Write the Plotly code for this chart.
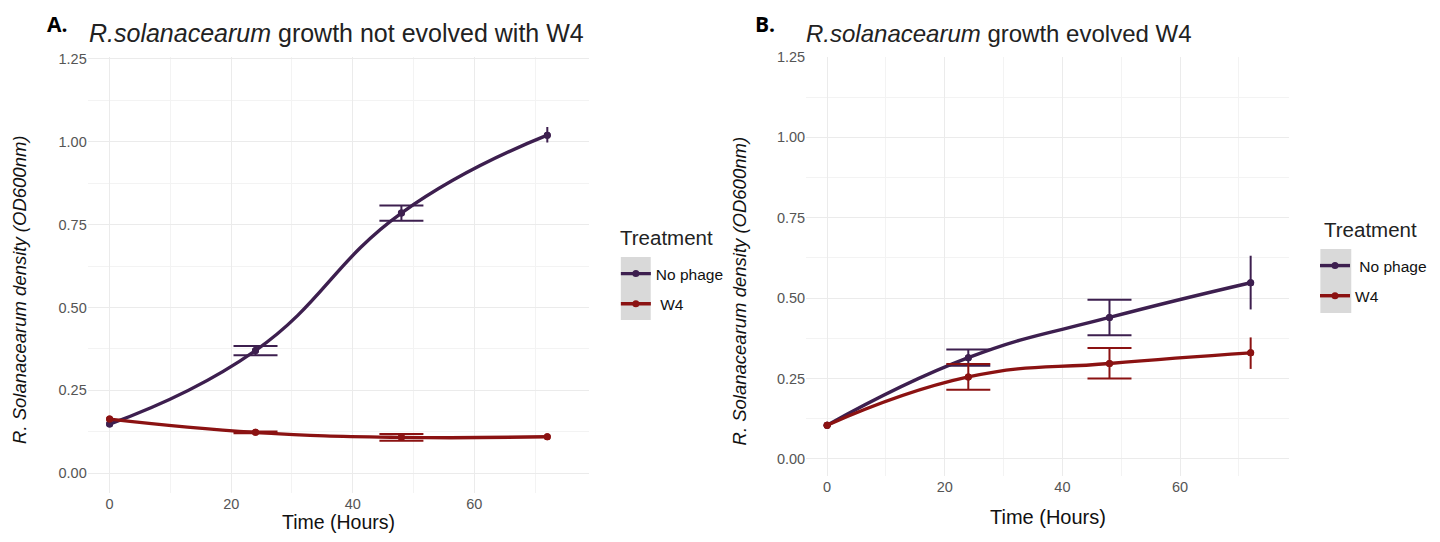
import plotly.graph_objects as go

# ---- data ----
time_hours = [0, 24, 48, 72]

# Panel A: not evolved with W4
a_nophage = [0.148, 0.370, 0.785, 1.020]
a_nophage_lo = [0.140, 0.356, 0.762, 0.998]
a_nophage_hi = [0.156, 0.384, 0.808, 1.045]
a_w4 = [0.163, 0.123, 0.108, 0.110]
a_w4_lo = [0.158, 0.120, 0.098, 0.106]
a_w4_hi = [0.168, 0.126, 0.118, 0.114]

# Panel B: evolved W4
b_nophage = [0.105, 0.315, 0.440, 0.548]
b_nophage_lo = [0.100, 0.290, 0.385, 0.465]
b_nophage_hi = [0.110, 0.340, 0.495, 0.632]
b_w4 = [0.105, 0.255, 0.297, 0.330]
b_w4_lo = [0.100, 0.215, 0.250, 0.280]
b_w4_hi = [0.110, 0.295, 0.345, 0.378]

treatments = ["No phage", "W4"]
legend_labels_a = ["No phage", " W4"]
legend_labels_b = [" No phage", "W4"]
colors = {"No phage": "#3D1F4F", "W4": "#8B1212"}

FONT = "Liberation Sans, Arial, sans-serif"

fig = go.Figure()


def add_panel(xa, ya, legend, labels, series):
    for (name, y, lo, hi), lab in zip(series, labels):
        col = colors[name]
        fig.add_trace(go.Scatter(
            x=time_hours, y=y, mode="lines+markers", name=lab,
            line=dict(color=col, width=3.4, shape="spline", smoothing=1.3),
            marker=dict(color=col, size=7),
            xaxis=xa, yaxis=ya, legend=legend, legendgroup=legend + name, showlegend=True,
        ))
        idx_cap = [1, 2]
        idx_nocap = [0, 3]
        for idx, w in ((idx_cap, 22), (idx_nocap, 0)):
            xs = [time_hours[i] for i in idx]
            ys = [y[i] for i in idx]
            plus = [hi[i] - y[i] for i in idx]
            minus = [y[i] - lo[i] for i in idx]
            fig.add_trace(go.Scatter(
                x=xs, y=ys, mode="markers",
                marker=dict(color=col, size=7),
                error_y=dict(type="data", symmetric=False, array=plus, arrayminus=minus,
                             color=col, thickness=2, width=w),
                xaxis=xa, yaxis=ya, showlegend=False, hoverinfo="skip",
            ))


add_panel("x", "y", "legend", legend_labels_a, [
    ("No phage", a_nophage, a_nophage_lo, a_nophage_hi),
    ("W4", a_w4, a_w4_lo, a_w4_hi),
])
add_panel("x2", "y2", "legend2", legend_labels_b, [
    ("No phage", b_nophage, b_nophage_lo, b_nophage_hi),
    ("W4", b_w4, b_w4_lo, b_w4_hi),
])

OFF = 8
W, H = 1440 - 2 * OFF, 542 - 2 * OFF


def px(x):
    return (x - OFF) / W


def py(y):
    return 1 - (y - OFF) / H


axis_common = dict(
    showline=False, zeroline=False, ticks="", automargin=False,
    gridcolor="#EBEBEB", gridwidth=1.3,
    tickfont=dict(family=FONT, size=14.5, color="#555555"),
)

legend_common = dict(
    xanchor="left", yanchor="top",
    font=dict(size=15.5, color="#111111", family=FONT), bgcolor="rgba(0,0,0,0)",
    itemwidth=30, tracegroupgap=7,
)

fig.update_layout(
    template="none",
    width=W, height=H, margin=dict(l=0, r=0, t=0, b=0, pad=0),
    paper_bgcolor="white", plot_bgcolor="white",
    font=dict(family=FONT),
    xaxis=dict(domain=[px(88), px(591)], range=[-3.6, 78.85], tick0=0, dtick=20,
               minor=dict(dtick=10, showgrid=True, gridcolor="#F3F3F3"), anchor="y", **axis_common),
    yaxis=dict(domain=[py(493), py(57)], range=[-0.060, 1.256], tick0=0, dtick=0.25,
               tickformat=".2f",
               minor=dict(dtick=0.125, showgrid=True, gridcolor="#F3F3F3"), anchor="x", **axis_common),
    xaxis2=dict(domain=[px(809), px(1294)], range=[-3.56, 78.6], tick0=0, dtick=20,
                minor=dict(dtick=10, showgrid=True, gridcolor="#F3F3F3"), anchor="y2", **axis_common),
    yaxis2=dict(domain=[py(476), py(57)], range=[-0.053, 1.25], tick0=0, dtick=0.25,
                tickformat=".2f",
                minor=dict(dtick=0.125, showgrid=True, gridcolor="#F3F3F3"), anchor="x2", **axis_common),
    legend=dict(x=px(618), y=py(257), **legend_common),
    legend2=dict(x=px(1320), y=py(249), **legend_common),
)

fig.add_shape(type="rect", xref="paper", yref="paper", x0=px(623), x1=px(653), y0=py(320), y1=py(257),
              fillcolor="#D9D9D9", line=dict(width=0), layer="below")
fig.add_shape(type="rect", xref="paper", yref="paper", x0=px(1325), x1=px(1356), y0=py(313), y1=py(249),
              fillcolor="#D9D9D9", line=dict(width=0), layer="below")

ann = []
ann.append(dict(text="Treatment", x=px(620), y=py(237), xanchor="left", yanchor="middle",
                font=dict(size=20.5, color="#222222", family=FONT)))
ann.append(dict(text="Treatment", x=px(1327), y=py(229), xanchor="left", yanchor="middle",
                font=dict(size=20.5, color="#222222", family=FONT)))
ann.append(dict(text="<b>A.</b>", x=px(45), y=py(24), xanchor="left", yanchor="middle",
                font=dict(size=21, color="black", family="Open Sans, sans-serif")))
ann.append(dict(text="<b>B.</b>", x=px(756), y=py(24), xanchor="left", yanchor="middle",
                font=dict(size=21, color="black", family="Open Sans, sans-serif")))
ann.append(dict(text="<i>R.solanacearum</i> growth not evolved with W4", x=px(87), y=py(33),
                xanchor="left", yanchor="middle", font=dict(size=25, color="#222222", family=FONT)))
ann.append(dict(text="<i>R.solanacearum</i> growth evolved W4", x=px(807), y=py(33),
                xanchor="left", yanchor="middle", font=dict(size=24, color="#222222", family=FONT)))
ann.append(dict(text="<i>R. Solanacearum density (OD600nm)</i>", x=px(19), y=py(290), textangle=-90,
                xanchor="center", yanchor="middle", font=dict(size=18.5, color="#111111", family=FONT)))
ann.append(dict(text="<i>R. Solanacearum density (OD600nm)</i>", x=px(742), y=py(291), textangle=-90,
                xanchor="center", yanchor="middle", font=dict(size=18.5, color="#111111", family=FONT)))
ann.append(dict(text="Time (Hours)", x=px(340), y=py(522), xanchor="center", yanchor="middle",
                font=dict(size=19.5, color="#111111", family=FONT)))
ann.append(dict(text="Time (Hours)", x=px(1052), y=py(517), xanchor="center", yanchor="middle",
                font=dict(size=20, color="#111111", family=FONT)))
for a in ann:
    a.update(xref="paper", yref="paper", showarrow=False)
fig.update_layout(annotations=ann)

fig.write_html("out.html")
